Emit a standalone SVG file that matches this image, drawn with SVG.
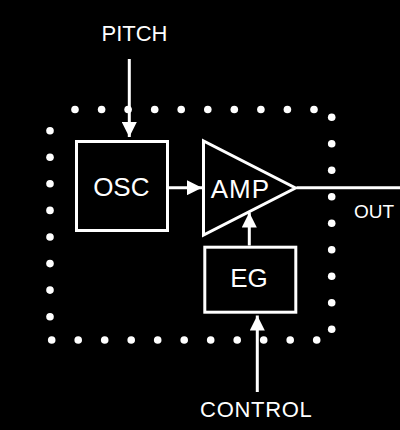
<svg xmlns="http://www.w3.org/2000/svg" width="400" height="430" viewBox="0 0 400 430">
<style>
.bg{fill:#000}
.box{fill:none;stroke:#fff;stroke-width:3}
.ln{fill:none;stroke:#fff;stroke-width:3}
.dot{fill:#fff}
text{fill:#fff;font-family:"Liberation Sans",Arial,sans-serif;text-anchor:middle}
.big{font-size:26px}
.sm{font-size:22px}
</style>
<defs>
<marker id="ah" viewBox="0 0 10 10" refX="10" refY="5" markerWidth="5" markerHeight="5" markerUnits="strokeWidth" orient="auto">
<path d="M0,0 L10,5 L0,10 Z" fill="#fff"/>
</marker>
<circle id="d" r="3.8" class="dot"/>
</defs>
<rect class="bg" width="400" height="430"/>
<g id="boundary">
<use href="#d" x="75" y="109.5"/><use href="#d" x="101.6" y="109.5"/><use href="#d" x="128.1" y="109.5"/><use href="#d" x="154.7" y="109.5"/><use href="#d" x="181.2" y="109.5"/><use href="#d" x="207.8" y="109.5"/><use href="#d" x="234.3" y="109.5"/><use href="#d" x="260.9" y="109.5"/><use href="#d" x="287.4" y="109.5"/><use href="#d" x="314" y="109.5"/>
<use href="#d" x="331.7" y="117.3"/><use href="#d" x="331.7" y="143.8"/><use href="#d" x="331.7" y="170.3"/><use href="#d" x="331.7" y="196.8"/><use href="#d" x="331.7" y="223.3"/><use href="#d" x="331.7" y="249.8"/><use href="#d" x="331.7" y="276.3"/><use href="#d" x="331.7" y="302.8"/><use href="#d" x="331.7" y="329.3"/>
<use href="#d" x="51.7" y="340"/><use href="#d" x="78.2" y="340"/><use href="#d" x="104.7" y="340"/><use href="#d" x="131.2" y="340"/><use href="#d" x="157.7" y="340"/><use href="#d" x="184.2" y="340"/><use href="#d" x="210.7" y="340"/><use href="#d" x="237.2" y="340"/><use href="#d" x="263.7" y="340"/><use href="#d" x="290.2" y="340"/><use href="#d" x="316.7" y="340"/>
<use href="#d" x="50" y="130.7"/><use href="#d" x="50" y="157.3"/><use href="#d" x="50" y="183.8"/><use href="#d" x="50" y="210.4"/><use href="#d" x="50" y="237"/><use href="#d" x="50" y="263.6"/><use href="#d" x="50" y="290.1"/><use href="#d" x="50" y="316.7"/>
</g>
<g id="connectors">
<line class="ln" x1="129.3" y1="59" x2="129.3" y2="137" marker-end="url(#ah)"/>
<line class="ln" x1="169" y1="187.7" x2="202" y2="187.7" marker-end="url(#ah)"/>
<line class="ln" x1="249.3" y1="245.5" x2="249.3" y2="212.5" marker-end="url(#ah)"/>
<line class="ln" x1="257.3" y1="392" x2="257.3" y2="315.5" marker-end="url(#ah)"/>
<line class="ln" x1="296.5" y1="187.7" x2="400" y2="187.7"/>
</g>
<g id="pitch"><text class="sm" x="134.5" y="40.7">PITCH</text></g>
<g id="osc">
<rect class="box" x="76.5" y="141.5" width="91" height="89"/>
<text class="big" x="121.3" y="196">OSC</text>
</g>
<g id="amp">
<polygon class="box" points="203.5,141 203.5,235 295.5,188"/>
<text class="big" x="240.3" y="197.7" letter-spacing="1">AMP</text>
</g>
<g id="eg">
<rect class="box" x="204.8" y="247.2" width="91" height="65"/>
<text class="big" x="249" y="287.3">EG</text>
</g>
<g id="out"><text x="374" y="217.7" style="font-size:19px">OUT</text></g>
<g id="control"><text class="sm" x="256.3" y="417.3" letter-spacing="0.7">CONTROL</text></g>
</svg>
